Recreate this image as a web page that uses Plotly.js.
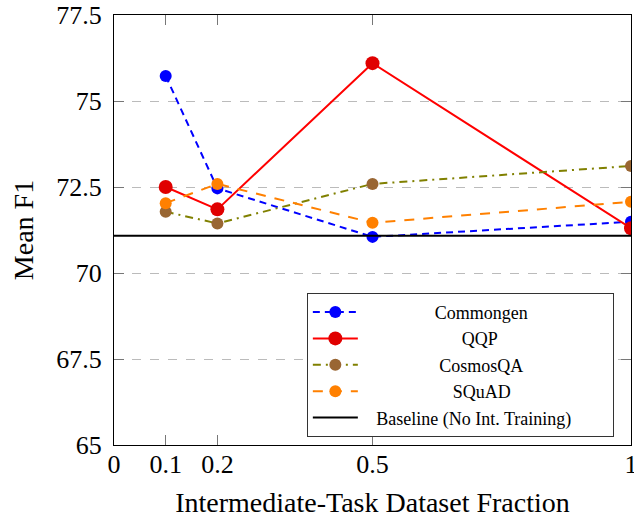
<!DOCTYPE html>
<html>
<head>
<meta charset="utf-8">
<script src="https://cdn.plot.ly/plotly-3.0.1.min.js"></script>
<style>html,body{margin:0;padding:0;background:#fff;}#chart{width:634px;height:519px;}</style>
</head>
<body>
<div id="chart"></div>
<script>
const fractions = [0.1, 0.2, 0.5, 1];
const commongen = [75.73, 72.46, 71.05, 71.49];
const qqp = [72.5, 71.85, 76.1, 71.3];
const cosmosqa = [71.78, 71.44, 72.59, 73.11];
const squad = [72.03, 72.59, 71.46, 72.07];
const baselineX = [0, 1];
const baselineValue = 71.08;
const seriesNames = ["Commongen", "QQP", "CosmosQA", "SQuAD", "Baseline (No Int. Training)"];
const xTickVals = [0, 0.1, 0.2, 0.5, 1];
const xTickText = ["0", "0.1", "0.2", "0.5", "1"];
const yTickVals = [65, 67.5, 70, 72.5, 75, 77.5];
const yTickText = ["65", "67.5", "70", "72.5", "75", "77.5"];

const legendPad = [16, 22, 17, 20, 3];
const legendTail = [0, 0, 0, 0, 8];
const pad = n => "\u00a0".repeat(n);
const nm = i => pad(legendPad[i]) + seriesNames[i] + pad(legendTail[i]);

const traces = [
  {x: fractions, y: commongen, name: nm(0), mode: "lines+markers",
   line: {color: "#0000ff", width: 2, dash: "7px,5px"}, marker: {color: "#0000ff", size: 12}},
  {x: fractions, y: qqp, name: nm(1), mode: "lines+markers",
   line: {color: "#ff0000", width: 2}, marker: {color: "#e00000", size: 14}},
  {x: fractions, y: cosmosqa, name: nm(2), mode: "lines+markers",
   line: {color: "#808000", width: 2, dash: "8px,5px,2px,5px"}, marker: {color: "#996633", size: 12}},
  {x: fractions, y: squad, name: nm(3), mode: "lines+markers",
   line: {color: "#ff8000", width: 2, dash: "10px,9px"}, marker: {color: "#ff8000", size: 12}},
  {x: baselineX, y: baselineX.map(() => baselineValue), name: nm(4), mode: "lines",
   line: {color: "#000000", width: 2}}
];

const fontFam = "'Liberation Serif', 'DejaVu Serif', serif";
const layout = {
  width: 634, height: 519,
  margin: {l: 114, r: 3, t: 15, b: 74},
  paper_bgcolor: "#fff", plot_bgcolor: "#fff",
  font: {family: fontFam, color: "#000", size: 22},
  showlegend: true,
  legend: {
    x: 0.373, y: 0.354, xanchor: "left", yanchor: "top",
    bordercolor: "#333", borderwidth: 1, bgcolor: "#fff",
    font: {family: fontFam, size: 18, color: "#000"},
    itemwidth: 45, tracegroupgap: 0
  },
  xaxis: {
    range: [0, 1], tickvals: xTickVals, ticktext: xTickText,
    showline: true, linecolor: "#000", linewidth: 1, mirror: "ticks",
    ticks: "inside", ticklen: 10, tickcolor: "#777", tickwidth: 1,
    showgrid: false, zeroline: false, ticklabeloverflow: "allow",
    ticklabelstandoff: -4,
    tickfont: {family: fontFam, size: 26},
    title: {text: "Intermediate-Task Dataset Fraction", font: {family: fontFam, size: 28}, standoff: 14}
  },
  yaxis: {
    range: [65, 77.5], tickvals: yTickVals, ticktext: yTickText,
    showline: true, linecolor: "#000", linewidth: 1, mirror: "ticks",
    ticks: "inside", ticklen: 10, tickcolor: "#777", tickwidth: 1,
    showgrid: true, gridcolor: "#bbbbbb", griddash: "dash", gridwidth: 1,
    zeroline: false, ticklabelstandoff: 6,
    tickfont: {family: fontFam, size: 26},
    title: {text: "Mean F1", font: {family: fontFam, size: 28}, standoff: 14}
  }
};

Plotly.newPlot("chart", traces, layout, {displayModeBar: false, staticPlot: true});
</script>
</body>
</html>
